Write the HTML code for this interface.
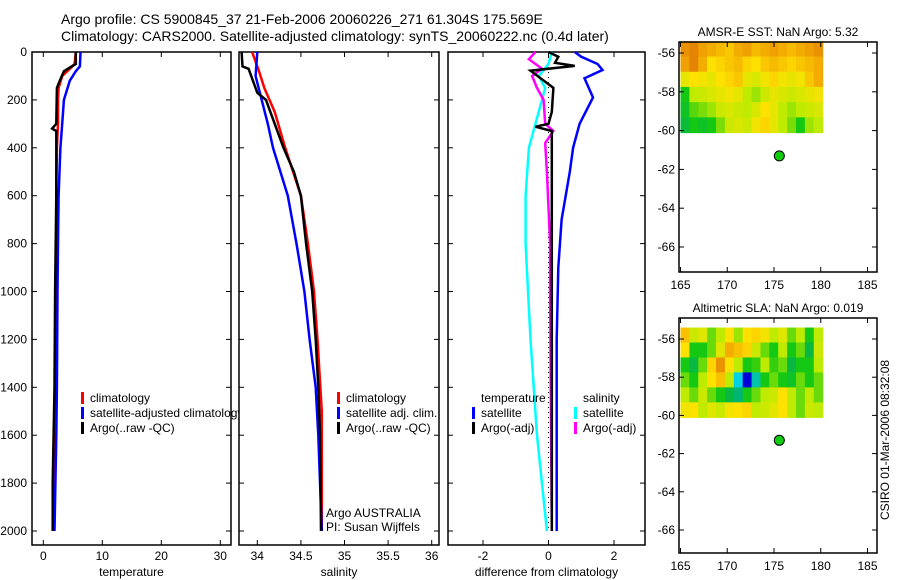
<!DOCTYPE html>
<html><head><meta charset="utf-8">
<style>
html,body{margin:0;padding:0;background:#fff;width:900px;height:580px;overflow:hidden}
svg{display:block;font-family:"Liberation Sans",sans-serif}
text{fill:#000}
</style></head>
<body>
<svg id="chart" width="900" height="580" xmlns="http://www.w3.org/2000/svg">
<text x="61" y="24" font-size="14">Argo profile: CS 5900845_37 21-Feb-2006 20060226_271 61.304S 175.569E</text>
<text x="61" y="41" font-size="14">Climatology: CARS2000. Satellite-adjusted climatology: synTS_20060222.nc (0.4d later)</text>
<text transform="translate(889,440) rotate(-90)" text-anchor="middle" font-size="12">CSIRO 01-Mar-2006 08:32:08</text>
</svg>
<script>
// ---- data ----
const depthTicks=[0,200,400,600,800,1000,1200,1400,1600,1800,2000];
const tempTicks=[0,10,20,30];
const salTicks=[34,34.5,35,35.5,36];
const diffTicks=[-2,0,2];
const tempClimDepth=[0,50,70,100,150,200,300,400,600,800,1000,1400,1600,2000];
const tempClim=[5.5,5.3,4.5,3.2,2.6,2.5,2.5,2.3,2.2,2.2,2.1,2.0,1.9,1.7];
const tempSatDepth=[0,60,80,120,200,300,400,600,800,1000,1400,1600,2000];
const tempSat=[6.3,6.2,5.5,4.5,3.5,3.2,2.9,2.6,2.5,2.4,2.3,2.2,1.9];
const tempArgoDepth=[0,50,65,80,120,150,300,320,330,600,1000,1400,1800,2000];
const tempArgo=[5.5,5.5,4.5,3.5,2.8,2.3,2.2,1.5,2.2,2.2,2.0,1.9,1.6,1.6];
const salClimDepth=[0,80,150,250,400,600,800,1000,1200,1500,2000];
const salClim=[33.94,34.02,34.08,34.2,34.32,34.5,34.58,34.65,34.69,34.74,34.74];
const salSatDepth=[0,100,200,300,400,600,800,1000,1200,1400,1600,2000];
const salSat=[34.0,33.98,34.05,34.12,34.18,34.35,34.45,34.54,34.6,34.67,34.7,34.74];
const salArgoDepth=[0,60,70,120,170,200,300,400,500,600,800,1000,1200,1400,1600,2000];
const salArgo=[33.82,33.83,33.9,33.95,34.0,34.1,34.2,34.3,34.42,34.5,34.56,34.63,34.67,34.7,34.72,34.73];
const dTsatDepth=[0,20,50,75,110,190,300,400,500,700,900,1200,2000];
const dTsat=[0.8,1.0,1.5,1.65,1.1,1.36,0.95,0.75,0.65,0.4,0.3,0.25,0.25];
const dTargoDepth=[0,20,45,58,78,150,250,300,312,330,500,800,1200,2000];
const dTargo=[0,0.3,0.2,0.8,-0.55,0.15,0.1,0.0,-0.4,0.1,0.1,0.1,0.1,0.1];
const dSsatDepth=[0,50,100,150,250,400,600,800,1200,1600,2000];
const dSsat=[0.1,0,-0.3,-0.1,-0.3,-0.6,-0.7,-0.7,-0.55,-0.35,-0.05];
const dSargoDepth=[0,30,70,100,150,200,300,330,380,500,800,1000,2000];
const dSargo=[-0.4,-0.6,-0.2,-0.5,-0.35,-0.15,-0.1,0.15,-0.1,-0.05,0.05,0.05,0.1];
const lonTicks=[165,170,175,180,185];
const latTicks=[-56,-58,-60,-62,-64,-66];
const floatLon=175.569, floatLat=-61.304;
const sstGrid=[
[0.82,0.84,0.8,0.78,0.76,0.74,0.78,0.8,0.76,0.78,0.8,0.78,0.76,0.78,0.8,0.82],
[0.8,0.84,0.78,0.7,0.72,0.74,0.76,0.72,0.7,0.74,0.76,0.74,0.72,0.74,0.76,0.78],
[0.66,0.7,0.68,0.66,0.7,0.72,0.74,0.66,0.64,0.68,0.72,0.68,0.66,0.68,0.74,0.78],
[0.5,0.6,0.62,0.64,0.66,0.68,0.66,0.6,0.58,0.62,0.66,0.64,0.62,0.64,0.66,0.68],
[0.48,0.54,0.56,0.58,0.62,0.64,0.62,0.6,0.64,0.7,0.66,0.6,0.58,0.6,0.62,0.64],
[0.46,0.5,0.48,0.5,0.56,0.62,0.64,0.62,0.68,0.72,0.66,0.6,0.56,0.5,0.58,0.6]];
const slaGrid=[
[0.75,0.62,0.65,0.55,0.6,0.7,0.58,0.7,0.72,0.68,0.6,0.65,0.55,0.6,0.5,0.6],
[0.7,0.5,0.5,0.55,0.65,0.78,0.75,0.72,0.62,0.55,0.5,0.6,0.5,0.55,0.45,0.62],
[0.5,0.45,0.55,0.72,0.82,0.7,0.6,0.5,0.52,0.6,0.52,0.55,0.45,0.5,0.5,0.6],
[0.55,0.5,0.6,0.7,0.75,0.6,0.3,0.1,0.35,0.5,0.55,0.5,0.48,0.55,0.5,0.55],
[0.6,0.55,0.62,0.55,0.5,0.45,0.4,0.5,0.55,0.6,0.62,0.7,0.6,0.55,0.6,0.55],
[0.68,0.7,0.6,0.65,0.62,0.68,0.7,0.72,0.6,0.62,0.65,0.7,0.6,0.55,0.62,0.6]];
const gridLon0=165, gridLon1=180.2, gridLat0=-55.4, gridLat1=-60.1;

// ---- drawing ----
const svg=document.getElementById('chart');
const NS='http://www.w3.org/2000/svg';
function mk(tag,attrs,parent){const e=document.createElementNS(NS,tag);for(const k in attrs)e.setAttribute(k,attrs[k]);(parent||svg).appendChild(e);return e;}
function lin(d0,d1,r0,r1){return v=>r0+(v-d0)*(r1-r0)/(d1-d0);}
const yDepth=lin(0,2000,52,531);
const PT=52,PB=545;

function profilePanel(name,L,R,xs,ticks,label,leftLabels){
  const g=mk('g',{});
  
  
  const r=mk('rect',{x:L,y:PT,width:R-L,height:PB-PT,fill:'#fff',stroke:'#000','stroke-width':1.5},g);
  
  
  depthTicks.forEach(d=>{
    const y=yDepth(d);
    mk('line',{x1:L,x2:L+5,y1:y,y2:y,stroke:'#000'},g);
    mk('line',{x1:R-5,x2:R,y1:y,y2:y,stroke:'#000'},g);
    if(leftLabels){const t=mk('text',{x:L-5,y:y+4,'text-anchor':'end','font-size':12},g);t.textContent=d;
      
      }
  });
  ticks.forEach(v=>{
    const x=xs(v);
    mk('line',{x1:x,x2:x,y1:PB,y2:PB-5,stroke:'#000'},g);
    mk('line',{x1:x,x2:x,y1:PT,y2:PT+5,stroke:'#000'},g);
    const t=mk('text',{x:x,y:PB+15,'text-anchor':'middle','font-size':12},g);t.textContent=v;
    
    
  });
  const t=mk('text',{x:(L+R)/2,y:PB+31,'text-anchor':'middle','font-size':12},g);t.textContent=label;
  
  
  return g;
}
function series(g,xs,depths,vals,color,name,w){
  const pts=depths.map((d,i)=>xs(vals[i]).toFixed(1)+','+yDepth(d).toFixed(1)).join(' ');
  const p=mk('polyline',{points:pts,fill:'none',stroke:color,'stroke-width':w||2.5},g);
  
  
}
function legend(g,x,y,items,name){
  items.forEach((it,i)=>{
    const yy=y+i*15;
    mk('rect',{x:x,y:yy-10,width:3,height:12,fill:it[1]},g);
    const t=mk('text',{x:x+9,y:yy,'font-size':12},g);t.textContent=it[0];
    
    
  });
}
// panel 1
const xT=lin(0,30,43.3,220.3);
const g1=profilePanel('temperature',32,231,xT,tempTicks,'temperature',true);
series(g1,xT,tempClimDepth,tempClim,'#f00','temp-climatology-line');
series(g1,xT,tempSatDepth,tempSat,'#00f','temp-satellite-line');
series(g1,xT,tempArgoDepth,tempArgo,'#000','temp-argo-line');
// panel 2
const xS=lin(34,36,257.3,431.7);
const g2=profilePanel('salinity',239,439,xS,salTicks,'salinity',false);
legend(g1,81,402,[['climatology','#f00'],['satellite-adjusted climatology','#00f'],['Argo(..raw -QC)','#000']],'temp-legend');
series(g2,xS,salClimDepth,salClim,'#f00','sal-climatology-line');
series(g2,xS,salSatDepth,salSat,'#00f','sal-satellite-line');
series(g2,xS,salArgoDepth,salArgo,'#000','sal-argo-line');
legend(g2,337,402,[['climatology','#f00'],['satellite adj. clim.','#00f'],['Argo(..raw -QC)','#000']],'sal-legend');
let t1=mk('text',{x:326,y:517,'font-size':12},g2);t1.textContent='Argo AUSTRALIA';


let t2=mk('text',{x:326,y:531,'font-size':12},g2);t2.textContent='PI: Susan Wijffels';


// panel 3
const xD=lin(-2,2,483,614);
const g3=profilePanel('difference',448,645,xD,diffTicks,'difference from climatology',false);
mk('line',{x1:xD(0),x2:xD(0),y1:PT,y2:yDepth(2000),stroke:'#000','stroke-dasharray':'1,4'},g3);
series(g3,xD,dSsatDepth,dSsat,'#0ff','sal-satellite-diff-line');
series(g3,xD,dTsatDepth,dTsat,'#00f','temp-satellite-diff-line');
series(g3,xD,dSargoDepth,dSargo,'#f0f','sal-argo-diff-line');
series(g3,xD,dTargoDepth,dTargo,'#000','temp-argo-diff-line');
let th=mk('text',{x:481,y:402,'font-size':12},g3);th.textContent='temperature';


let sh=mk('text',{x:583,y:402,'font-size':12},g3);sh.textContent='salinity';


legend(g3,472,417,[['satellite','#00f'],['Argo(-adj)','#000']],'diff-temp-legend');
legend(g3,574,417,[['satellite','#0ff'],['Argo(-adj)','#f0f']],'diff-sal-legend');

// colormap
const cmStops=[[0,[0,0,140]],[0.15,[0,0,255]],[0.3,[0,210,230]],[0.42,[0,175,90]],[0.5,[20,200,20]],[0.6,[190,235,0]],[0.7,[255,225,0]],[0.8,[240,160,0]],[0.9,[210,90,0]],[1,[180,40,0]]];
function cmap(v){
  for(let i=1;i<cmStops.length;i++){
    if(v<=cmStops[i][0]){const a=cmStops[i-1],b=cmStops[i];const f=(v-a[0])/(b[0]-a[0]);
      return 'rgb('+a[1].map((c,k)=>Math.round(c+(b[1][k]-c)*f)).join(',')+')';}
  }
  return 'rgb(180,40,0)';
}
function mapPanel(name,L,R,T,B,lat0,lat1,title,grid){
  const xs=lin(165,185,680.5,867.5);
  const yL=lin(-56,-66,lat0,lat1);
  const g=mk('g',{});
  
  
  const rows=grid.length, cols=grid[0].length;
  const gx0=xs(gridLon0),gx1=xs(gridLon1),gy0=yL(gridLat0),gy1=yL(gridLat1);
  const cw=(gx1-gx0)/cols,ch=(gy1-gy0)/rows;
  grid.forEach((row,i)=>row.forEach((v,j)=>{
    const c=mk('rect',{x:gx0+j*cw,y:gy0+i*ch,width:cw+0.6,height:ch+0.6,fill:cmap(v)},g);
    
    
  }));
  const r=mk('rect',{x:L,y:T,width:R-L,height:B-T,fill:'none',stroke:'#000','stroke-width':1.5},g);
  
  
  lonTicks.forEach(v=>{const x=xs(v);
    mk('line',{x1:x,x2:x,y1:B,y2:B-5,stroke:'#000'},g);mk('line',{x1:x,x2:x,y1:T,y2:T+5,stroke:'#000'},g);
    const t=mk('text',{x:x,y:B+17,'text-anchor':'middle','font-size':12},g);t.textContent=v;
    
    });
  latTicks.forEach(v=>{const y=yL(v);
    mk('line',{x1:L,x2:L+5,y1:y,y2:y,stroke:'#000'},g);mk('line',{x1:R-5,x2:R,y1:y,y2:y,stroke:'#000'},g);
    const t=mk('text',{x:L-4,y:y+4,'text-anchor':'end','font-size':12},g);t.textContent=v;
    
    });
  const d=mk('circle',{cx:xs(floatLon),cy:yL(floatLat),r:5,fill:'#1c1',stroke:'#000','stroke-width':1},g);
  
  
  const t=mk('text',{x:(L+R)/2,y:T-6,'text-anchor':'middle','font-size':12},g);t.textContent=title;
  
  
}
mapPanel('sst',679,877,42,272,53,247,'AMSR-E SST: NaN Argo: 5.32',sstGrid);
mapPanel('sla',679,877,318,553,339,530,'Altimetric SLA: NaN Argo: 0.019',slaGrid);
</script>
</body></html>
